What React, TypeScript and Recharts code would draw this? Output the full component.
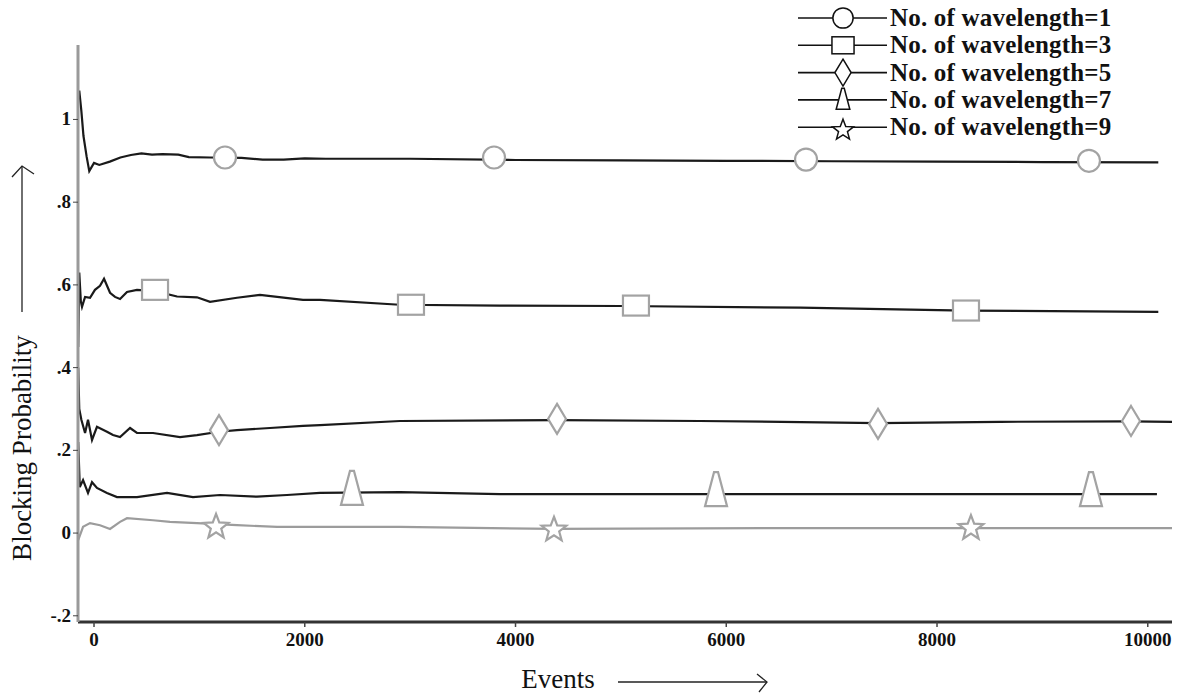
import React from 'react';
import {
  ComposedChart,
  Line,
  Scatter,
  XAxis,
  YAxis,
} from 'recharts';

// ---------- data ----------

const xTicks = [0, 2000, 4000, 6000, 8000, 10000];
const yTicks = [-0.2, 0, 0.2, 0.4, 0.6, 0.8, 1];
const yTickLabels: Record<string, string> = {
  '-0.2': '-.2',
  '0': '0',
  '0.2': '.2',
  '0.4': '.4',
  '0.6': '.6',
  '0.8': '.8',
  '1': '1',
};

const legendLabels = [
  'No. of wavelength=1',
  'No. of wavelength=3',
  'No. of wavelength=5',
  'No. of wavelength=7',
  'No. of wavelength=9',
];

// wavelength = 1
const series1 = [
  { x: -140, y: 1.07 }, { x: -120, y: 1.02 }, { x: -100, y: 0.96 }, { x: -70, y: 0.91 },
  { x: -45, y: 0.875 }, { x: 0, y: 0.895 }, { x: 50, y: 0.89 }, { x: 150, y: 0.898 },
  { x: 250, y: 0.908 }, { x: 350, y: 0.914 }, { x: 450, y: 0.918 }, { x: 550, y: 0.915 },
  { x: 650, y: 0.916 }, { x: 800, y: 0.915 }, { x: 900, y: 0.909 }, { x: 1100, y: 0.908 },
  { x: 1400, y: 0.907 }, { x: 1600, y: 0.903 }, { x: 1800, y: 0.903 }, { x: 2000, y: 0.906 },
  { x: 2200, y: 0.905 }, { x: 3000, y: 0.905 }, { x: 4000, y: 0.902 }, { x: 5000, y: 0.901 },
  { x: 6000, y: 0.9 }, { x: 7000, y: 0.899 }, { x: 8000, y: 0.898 }, { x: 9000, y: 0.897 },
  { x: 10100, y: 0.896 },
];

// wavelength = 3
const series3 = [
  { x: -150, y: 0.45 }, { x: -140, y: 0.63 }, { x: -125, y: 0.56 }, { x: -114, y: 0.547 },
  { x: -85, y: 0.571 }, { x: -38, y: 0.569 }, { x: 9, y: 0.588 }, { x: 57, y: 0.598 },
  { x: 95, y: 0.615 }, { x: 152, y: 0.581 }, { x: 199, y: 0.571 }, { x: 247, y: 0.566 },
  { x: 313, y: 0.583 }, { x: 408, y: 0.588 }, { x: 579, y: 0.585 }, { x: 788, y: 0.572 },
  { x: 977, y: 0.57 }, { x: 1101, y: 0.559 }, { x: 1357, y: 0.569 }, { x: 1575, y: 0.576 },
  { x: 1983, y: 0.564 }, { x: 2145, y: 0.564 }, { x: 2900, y: 0.552 }, { x: 3850, y: 0.55 },
  { x: 5000, y: 0.549 }, { x: 6700, y: 0.545 }, { x: 8275, y: 0.538 }, { x: 10100, y: 0.535 },
];

// wavelength = 5
const series5 = [
  { x: -150, y: 0.4 }, { x: -140, y: 0.3 }, { x: -120, y: 0.274 }, { x: -85, y: 0.242 },
  { x: -57, y: 0.274 }, { x: -19, y: 0.225 }, { x: 28, y: 0.257 }, { x: 123, y: 0.245 },
  { x: 180, y: 0.237 }, { x: 247, y: 0.232 }, { x: 342, y: 0.254 }, { x: 408, y: 0.242 },
  { x: 560, y: 0.242 }, { x: 816, y: 0.232 }, { x: 977, y: 0.237 }, { x: 1186, y: 0.245 },
  { x: 1357, y: 0.249 }, { x: 1670, y: 0.254 }, { x: 1983, y: 0.259 }, { x: 2145, y: 0.261 },
  { x: 2904, y: 0.271 }, { x: 4394, y: 0.273 }, { x: 5751, y: 0.271 }, { x: 7440, y: 0.266 },
  { x: 8598, y: 0.269 }, { x: 9841, y: 0.27 }, { x: 10230, y: 0.269 },
];

// wavelength = 7
const series7 = [
  { x: -150, y: 0.22 }, { x: -135, y: 0.111 }, { x: -104, y: 0.128 }, { x: -57, y: 0.097 },
  { x: -19, y: 0.123 }, { x: 28, y: 0.109 }, { x: 123, y: 0.097 }, { x: 218, y: 0.087 },
  { x: 408, y: 0.087 }, { x: 693, y: 0.097 }, { x: 939, y: 0.087 }, { x: 1196, y: 0.092 },
  { x: 1547, y: 0.088 }, { x: 1831, y: 0.092 }, { x: 2145, y: 0.097 }, { x: 2904, y: 0.099 },
  { x: 3853, y: 0.094 }, { x: 5751, y: 0.094 }, { x: 7648, y: 0.094 }, { x: 10087, y: 0.094 },
];

// wavelength = 9
const series9 = [
  { x: -150, y: -0.017 }, { x: -104, y: 0.015 }, { x: -38, y: 0.024 }, { x: 57, y: 0.019 },
  { x: 152, y: 0.01 }, { x: 247, y: 0.027 }, { x: 313, y: 0.036 }, { x: 560, y: 0.031 },
  { x: 721, y: 0.027 }, { x: 977, y: 0.024 }, { x: 1357, y: 0.019 }, { x: 1737, y: 0.015 },
  { x: 2145, y: 0.015 }, { x: 2904, y: 0.015 }, { x: 4365, y: 0.01 }, { x: 6500, y: 0.012 },
  { x: 8322, y: 0.012 }, { x: 10250, y: 0.012 },
];

const markers1 = [{ x: 1243, y: 0.908 }, { x: 3796, y: 0.908 }, { x: 6757, y: 0.903 }, { x: 9442, y: 0.9 }];
const markers3 = [{ x: 579, y: 0.588 }, { x: 3008, y: 0.552 }, { x: 5143, y: 0.55 }, { x: 8275, y: 0.538 }];
const markers5 = [{ x: 1186, y: 0.249 }, { x: 4394, y: 0.276 }, { x: 7440, y: 0.264 }, { x: 9841, y: 0.271 }];
const markers7 = [{ x: 2448, y: 0.097 }, { x: 5903, y: 0.094 }, { x: 9461, y: 0.094 }];
const markers9 = [{ x: 1158, y: 0.015 }, { x: 4365, y: 0.008 }, { x: 8322, y: 0.012 }];

// ---------- drawing helpers ----------

const FONT = "'Liberation Serif', 'Times New Roman', serif";
const MARK_GRAY = '#a3a3a3';
const LINE_DARK = '#1a1a1a';

type Kind = 'circle' | 'square' | 'diamond' | 'triangle' | 'star';

const starPoints = (cx: number, cy: number, ro: number, ri: number) => {
  const pts: string[] = [];
  for (let i = 0; i < 10; i++) {
    const r = i % 2 === 0 ? ro : ri;
    const a = -Math.PI / 2 + (i * Math.PI) / 5;
    pts.push(`${cx + r * Math.cos(a)},${cy + r * Math.sin(a)}`);
  }
  return pts.join(' ');
};

const Marker = ({ kind, cx, cy, stroke, strokeWidth, s = 1 }: {
  kind: Kind; cx: number; cy: number; stroke: string; strokeWidth: number; s?: number;
}) => {
  const common = { fill: '#fff', stroke, strokeWidth };
  switch (kind) {
    case 'circle':
      return <circle cx={cx} cy={cy} r={11 * s} {...common} />;
    case 'square':
      return <rect x={cx - 13 * s} y={cy - 10 * s} width={26 * s} height={20 * s} {...common} />;
    case 'diamond':
      return (
        <polygon
          points={`${cx},${cy - 15 * s} ${cx + 9 * s},${cy} ${cx},${cy + 15 * s} ${cx - 9 * s},${cy}`}
          {...common}
        />
      );
    case 'triangle':
      return (
        <polygon
          points={`${cx - 2 * s},${cy - 22 * s} ${cx + 2 * s},${cy - 22 * s} ${cx + 11 * s},${cy + 12 * s} ${cx - 11 * s},${cy + 12 * s}`}
          {...common}
        />
      );
    default:
      return <polygon points={starPoints(cx, cy, 13 * s, 5.5 * s)} {...common} />;
  }
};

const shapeFor = (kind: Kind) => (props: any) => (
  <Marker kind={kind} cx={props.cx} cy={props.cy} stroke={MARK_GRAY} strokeWidth={2.2} />
);

const legendKinds: Kind[] = ['circle', 'square', 'diamond', 'triangle', 'star'];
const legendScale = [0.92, 0.85, 0.9, 0.62, 0.85];

const YTick = (props: any) => {
  const { x, y, payload } = props;
  return (
    <text x={x} y={y} dy={6} textAnchor="end" fontFamily={FONT} fontWeight="bold" fontSize={19} fill="#111">
      {yTickLabels[String(payload.value)]}
    </text>
  );
};

const XTick = (props: any) => {
  const { x, y, payload } = props;
  return (
    <text x={x} y={y} dy={17} textAnchor="middle" fontFamily={FONT} fontWeight="bold" fontSize={19} fill="#111">
      {payload.value}
    </text>
  );
};

export default function App() {
  return (
    <div style={{ position: 'fixed', left: 0, top: 0, width: 1184, height: 698, background: '#fff' }}>
      <ComposedChart width={1184} height={698} margin={{ top: 45, right: 12, left: 18, bottom: 36 }}>
        <XAxis
          dataKey="x"
          type="number"
          domain={[-152, 10230]}
          ticks={xTicks}
          allowDataOverflow
          height={40}
          stroke="#333"
          strokeWidth={3}
          tickLine={{ stroke: '#444', strokeWidth: 1.5 }}
          tickSize={5}
          tick={<XTick />}
        />
        <YAxis
          type="number"
          domain={[-0.215, 1.18]}
          ticks={yTicks}
          allowDataOverflow
          width={60}
          stroke="#9a9a9a"
          strokeWidth={3}
          tickLine={{ stroke: '#444', strokeWidth: 1 }}
          tickSize={5}
          tickMargin={2}
          tick={<YTick />}
        />
        <Line data={series1} dataKey="y" type="linear" stroke={LINE_DARK} strokeWidth={2.2} dot={false} isAnimationActive={false} />
        <Line data={series3} dataKey="y" type="linear" stroke={LINE_DARK} strokeWidth={2.2} dot={false} isAnimationActive={false} />
        <Line data={series5} dataKey="y" type="linear" stroke={LINE_DARK} strokeWidth={2.2} dot={false} isAnimationActive={false} />
        <Line data={series7} dataKey="y" type="linear" stroke={LINE_DARK} strokeWidth={2.2} dot={false} isAnimationActive={false} />
        <Line data={series9} dataKey="y" type="linear" stroke="#9c9c9c" strokeWidth={2.2} dot={false} isAnimationActive={false} />
        <Scatter data={markers1} dataKey="y" shape={shapeFor('circle')} isAnimationActive={false} />
        <Scatter data={markers3} dataKey="y" shape={shapeFor('square')} isAnimationActive={false} />
        <Scatter data={markers5} dataKey="y" shape={shapeFor('diamond')} isAnimationActive={false} />
        <Scatter data={markers7} dataKey="y" shape={shapeFor('triangle')} isAnimationActive={false} />
        <Scatter data={markers9} dataKey="y" shape={shapeFor('star')} isAnimationActive={false} />
      </ComposedChart>

      {/* axis titles, arrows and legend */}
      <svg width={1184} height={698} style={{ position: 'absolute', left: 0, top: 0, pointerEvents: 'none' }}>
        <text x={558} y={688} textAnchor="middle" fontFamily={FONT} fontSize={27} fill="#111">Events</text>
        <line x1={618} y1={682} x2={767} y2={682} stroke="#222" strokeWidth={1.3} />
        <polyline points="757,674 767,682 759,692" fill="none" stroke="#222" strokeWidth={1.3} />

        <text
          x={0}
          y={0}
          transform="translate(31,448) rotate(-90)"
          textAnchor="middle"
          fontFamily={FONT}
          fontSize={27}
          fill="#111"
        >
          Blocking Probability
        </text>
        <line x1={22} y1={312} x2={22} y2={166} stroke="#222" strokeWidth={1.3} />
        <polyline points="12,177 22,166 34,174" fill="none" stroke="#222" strokeWidth={1.3} />

        {legendLabels.map((label, i) => {
          const cy = 18 + i * 27.3;
          return (
            <g key={label}>
              <line x1={798} y1={cy} x2={887} y2={cy} stroke="#111" strokeWidth={1.6} />
              <Marker kind={legendKinds[i]} cx={843} cy={i === 3 ? cy + 2 : i === 4 ? cy + 3 : cy} stroke="#111" strokeWidth={1.5} s={legendScale[i]} />
              <text x={890} y={cy + 8} fontFamily={FONT} fontWeight="bold" fontSize={25} letterSpacing={0.2} fill="#111">{label}</text>
            </g>
          );
        })}
      </svg>
    </div>
  );
}
